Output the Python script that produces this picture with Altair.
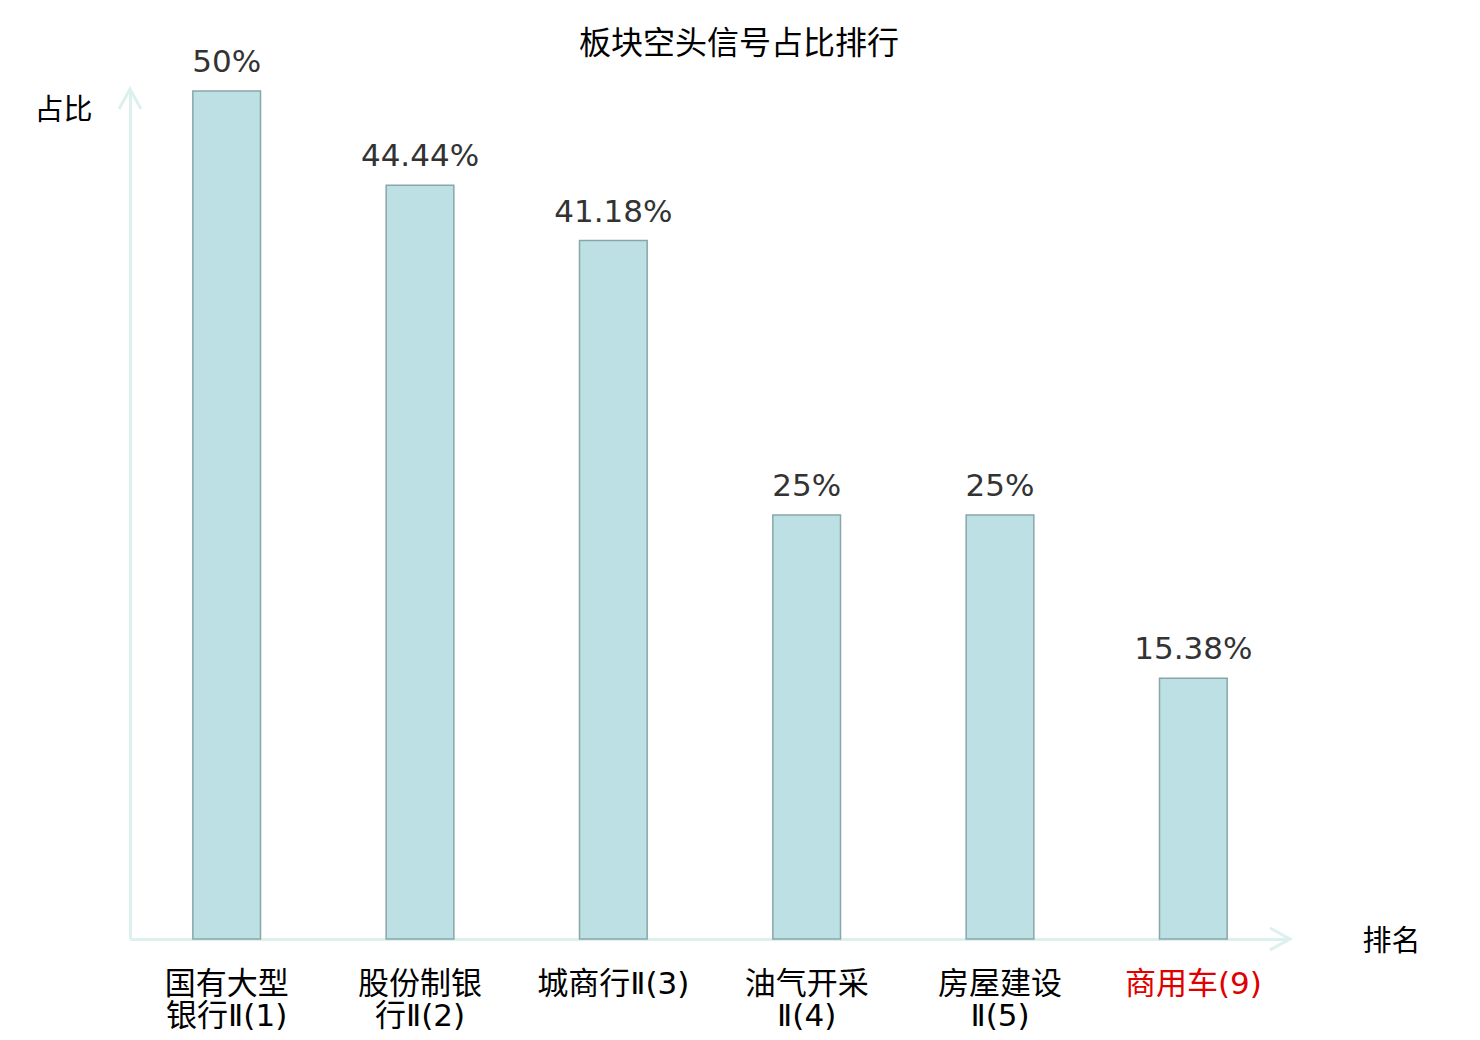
import altair as alt
import pandas as pd

categories = ["国有大型\n银行Ⅱ(1)", "股份制银\n行Ⅱ(2)", "城商行Ⅱ(3)", "油气开采\nⅡ(4)", "房屋建设\nⅡ(5)", "商用车(9)"]
values = [50, 44.44, 41.18, 25, 25, 15.38]
highlight = "商用车(9)"

df = pd.DataFrame({"cat": categories, "val": values})

CJK = "Noto Sans CJK SC"
LABEL_FONT = "DejaVu Sans ExtraLight, DejaVu Sans, Noto Sans CJK SC"
NUM = "DejaVu Sans"
AXIS_COLOR = "#dcf0ee"

x = alt.X("cat:N", sort=None,
          scale=alt.Scale(paddingInner=0.65, paddingOuter=0.325),
          axis=alt.Axis(title="排名", titleAngle=0, titleX=1261, titleY=2,
                        titleAlign="center", titleBaseline="middle",
                        titleFont=CJK, titleFontSize=29, titleFontWeight="normal", titleColor="#000",
                        labelAngle=0, labelFont=LABEL_FONT, labelFontSize=31, labelLineHeight=32,
                        labelPadding=30, labelExpr="split(datum.label, '\\n')",
                        labelColor=alt.condition(f"datum.value == '{highlight}'", alt.value("#e00000"), alt.value("#000000")),
                        ticks=False, domainColor=AXIS_COLOR, domainWidth=3, grid=False))
y = alt.Y("val:Q", scale=alt.Scale(domain=[0, 50], nice=False, zero=True),
          axis=alt.Axis(title="占比", titleAngle=0, titleX=-67, titleY=19,
                        titleAlign="center", titleBaseline="middle",
                        titleFont=CJK, titleFontSize=29, titleFontWeight="normal", titleColor="#000",
                        labels=False, ticks=False, grid=False, domainColor=AXIS_COLOR, domainWidth=3))

bars = alt.Chart(df).mark_bar(color="#bce0e3", stroke="#88a6a9", strokeWidth=1.5).encode(x=x, y=y)

text = alt.Chart(df).transform_calculate(
    lab="format(datum.val, '.2~f') + '%'"
).mark_text(font=NUM, fontSize=31, color="#333333", baseline="alphabetic", dy=-19).encode(
    x=alt.X("cat:N", sort=None), y="val:Q", text="lab:N")

arrow_src = alt.Data(values=[{"a": 1}])
up_arrow = alt.Chart(arrow_src).mark_point(
    shape="M-0.55,1L0,0L0.55,1", filled=False, stroke=AXIS_COLOR, strokeWidth=3, size=1600, opacity=1
).encode(x=alt.value(0), y=alt.value(-2))
right_arrow = alt.Chart(arrow_src).mark_point(
    shape="M-1,-0.55L0,0L-1,0.55", filled=False, stroke=AXIS_COLOR, strokeWidth=3, size=1600, opacity=1
).encode(x=alt.value(1160), y=alt.value(848))

chart = alt.layer(bars, text, up_arrow, right_arrow).properties(
    width=1160, height=848,
    title=alt.TitleParams("板块空头信号占比排行", font=CJK, fontSize=32, fontWeight="normal",
                          color="#000", anchor="middle", dx=29, dy=48, offset=34),
    autosize=alt.AutoSizeParams(type="none"),
    padding={"left": 122, "top": 83, "right": 170, "bottom": 100},
).configure_view(stroke=None)

chart.save("out.html", embed_options={"renderer": "svg", "actions": False})
